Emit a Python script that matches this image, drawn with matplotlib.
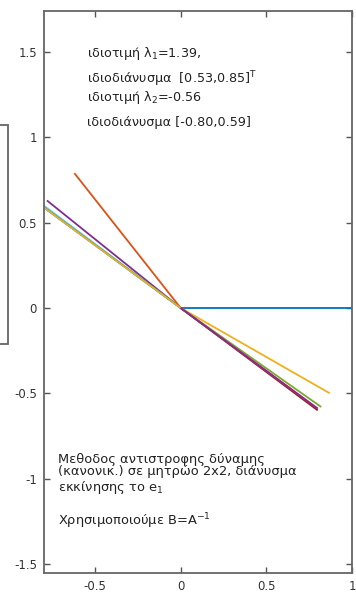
import matplotlib
matplotlib.use('Agg')
import matplotlib.pyplot as plt
from matplotlib.patches import Rectangle

plt.rcParams['font.family'] = ['DejaVu Sans']
plt.rcParams['mathtext.fontset'] = 'dejavusans'

# end points of the normalized iterates x_k (start at origin)
vec_x = [1.00, -0.62, 0.87, -0.78, 0.82, -0.80, 0.80, -0.80, 0.80, -0.80, 0.80]
vec_y = [0.00, 0.79, -0.50, 0.63, -0.58, 0.60, -0.60, 0.59, -0.59, 0.59, -0.59]

colors = ['#0072bd', '#d95319', '#edb120', '#7e2f8e', '#77ac30',
          '#4dbeee', '#a2142f']

xticks = [-0.5, 0, 0.5, 1]
xtick_labels = ['-0.5', '0', '0.5', '1']
yticks = [-1.5, -1, -0.5, 0, 0.5, 1, 1.5]
ytick_labels = ['-1.5', '-1', '-0.5', '0', '0.5', '1', '1.5']

W, H = 356, 592
fig = plt.figure(figsize=(W / 100, H / 100), dpi=100)
ax = fig.add_axes([44 / W, 1 - 573 / H, 308 / W, 562 / H])

for k in range(len(vec_x)):
    ax.plot([0, vec_x[k]], [0, vec_y[k]], color=colors[k % len(colors)], lw=1.3,
            solid_capstyle='butt')

ax.set_xlim(-0.797, 1.0)
ax.set_ylim(-1.553, 1.74)
ax.set_xticks(xticks)
ax.set_xticklabels(xtick_labels)
ax.set_yticks(yticks)
ax.set_yticklabels(ytick_labels)
ax.tick_params(direction='in', length=4, width=1, colors='#555555',
               labelcolor='#333333', labelsize=8.5, top=True, right=True, pad=5)
for s in ax.spines.values():
    s.set_color('#666666')
    s.set_linewidth(1.3)

def ftext(px, py, s, size=9.2):
    # place text using pixel coordinates of the reference
    fig.text(px / W, 1 - py / H, s, fontsize=size, color='#222222',
             ha='left', va='center')

ftext(87, 54, 'ιδιοτιμή λ$_1$=1.39,')
ftext(87, 79, 'ιδιοδιάνυσμα  [0.53,0.85]$^\\mathsf{T}$')
ftext(87, 97, 'ιδιοτιμή λ$_2$=-0.56')
ftext(87, 122, 'ιδιοδιάνυσμα [-0.80,0.59]')

ftext(58, 459, 'Μεθοδος αντιστροφης δύναμης', 9.4)
ftext(58, 472, '(κανονικ.) σε μητρώο 2x2, διάνυσμα', 9.4)
ftext(58, 488, 'εκκίνησης το e$_1$', 9.4)
ftext(58, 521, 'Χρησιμοποιούμε B=A$^{-1}$', 9.4)

# partial box at the left edge
fig.patches.append(Rectangle((-0.05, 1 - 344 / H), 0.05 + 8 / W, (344 - 125) / H,
                             transform=fig.transFigure, fill=False,
                             edgecolor='#666666', lw=1.3))

fig.savefig('out.png', dpi=100)
